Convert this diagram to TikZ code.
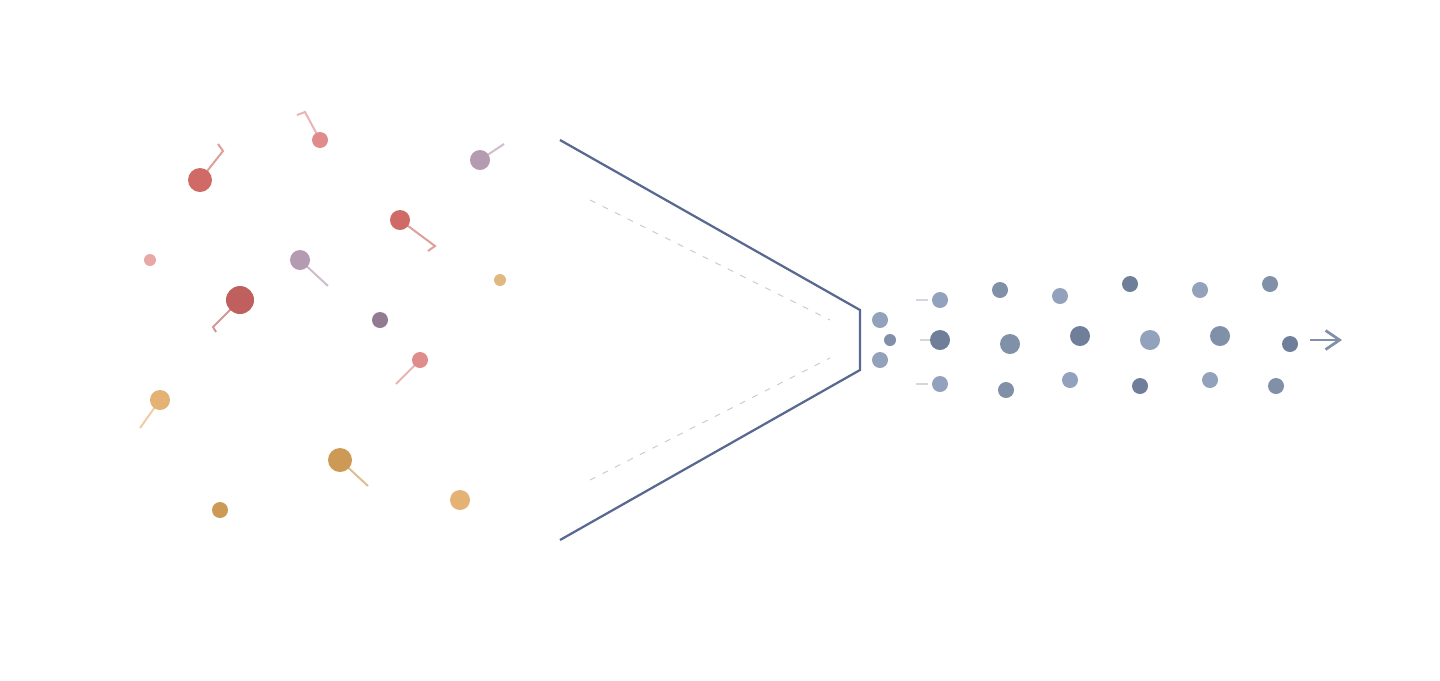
\documentclass[tikz,border=0pt]{standalone}
\usepackage{xcolor}
\usepackage{tikz}
\usetikzlibrary{arrows.meta}
\definecolor{funnelblue}{RGB}{88,104,144}
\definecolor{redmid}{RGB}{208,106,102}
\definecolor{reddark}{RGB}{191,95,94}
\definecolor{pinkmid}{RGB}{224,140,140}
\definecolor{pinklight}{RGB}{232,168,165}
\definecolor{mauve}{RGB}{180,155,178}
\definecolor{plum}{RGB}{147,122,147}
\definecolor{orangelight}{RGB}{227,178,116}
\definecolor{ochre}{RGB}{205,154,85}
\definecolor{sand}{RGB}{224,184,128}
\definecolor{bluelight}{RGB}{147,162,188}
\definecolor{bluemid}{RGB}{128,144,168}
\definecolor{bluedark}{RGB}{111,127,154}
\definecolor{guide}{RGB}{200,204,214}

\begin{document}
\begin{tikzpicture}[x=0.2mm, y=-0.2mm,
    p/.style={circle, inner sep=0pt, fill=#1},
    rad/.style={minimum size=#1*0.4mm},
    tl/.style={draw=#1, line width=0.4mm, draw opacity=0.65},
    fun/.style={draw=funnelblue, line width=0.45mm},
    gd/.style={draw=guide, line width=0.2mm, dash pattern=on 1.2mm off 1.6mm},
    lead/.style={draw=guide!80, line width=0.4mm},
    arr/.style={-{Straight Barb[length=2.8mm, width=3.8mm]}, draw=bluemid, line width=0.55mm}]
    \useasboundingbox (0,0) rectangle (1440,680);

    % incoming particles
    \node[p=redmid, rad=12] (d1) at (200,180) {};
    \node[p=pinkmid, rad=8] (d2) at (320,140) {};
    \node[p=mauve, rad=10] (d3) at (480,160) {};
    \node[p=redmid, rad=10] (d4) at (400,220) {};
    \node[p=pinklight, rad=6] (d5) at (150,260) {};
    \node[p=mauve, rad=10] (d6) at (300,260) {};
    \node[p=sand, rad=6] (d7) at (500,280) {};
    \node[p=reddark, rad=14] (d8) at (240,300) {};
    \node[p=plum, rad=8] (d9) at (380,320) {};
    \node[p=pinkmid, rad=8] (d10) at (420,360) {};
    \node[p=orangelight, rad=10] (d11) at (160,400) {};
    \node[p=ochre, rad=12] (d12) at (340,460) {};
    \node[p=ochre, rad=8] (d13) at (220,510) {};
    \node[p=orangelight, rad=10] (d14) at (460,500) {};

    % tails
    \coordinate (e1) at (223,151);
    \coordinate (e2) at (305,112);
    \coordinate (e3) at (504,144);
    \coordinate (e4) at (435,246);
    \coordinate (e6) at (328,286);
    \coordinate (e8) at (213,327);
    \coordinate (e10) at (396,384);
    \coordinate (e11) at (140,428);
    \coordinate (e12) at (368,486);
    \draw[tl=redmid] (d1.center) -- (e1) -- ++(-5,-7);
    \draw[tl=pinkmid] (d2.center) -- (e2) -- ++(-8,3);
    \draw[tl=mauve] (d3.center) -- (e3);
    \draw[tl=redmid] (d4.center) -- (e4) -- ++(-7,5);
    \draw[tl=mauve] (d6.center) -- (e6);
    \draw[tl=reddark] (d8.center) -- (e8) -- ++(3,5);
    \draw[tl=pinkmid] (d10.center) -- (e10);
    \draw[tl=orangelight] (d11.center) -- (e11);
    \draw[tl=ochre] (d12.center) -- (e12);

    % funnel
    \coordinate (f1) at (560,140);
    \coordinate (f2) at (860,310);
    \coordinate (f3) at (860,370);
    \coordinate (f4) at (560,540);
    \draw[fun] (f1) -- (f2) -- (f3) -- (f4);
    \coordinate (g1) at (590,200);
    \coordinate (g2) at (830,320);
    \coordinate (g3) at (590,480);
    \coordinate (g4) at (830,358);
    \draw[gd] (g1) -- (g2);
    \draw[gd] (g3) -- (g4);

    % leaving the funnel
    \node[p=bluelight, rad=8] (x1) at (880,320) {};
    \node[p=bluemid, rad=6] (x2) at (890,340) {};
    \node[p=bluelight, rad=8] (x3) at (880,360) {};

    % ordered rows
    \foreach \n/\x/\y/\r/\c in {
        a1/940/300/8/bluelight, a2/1000/290/8/bluemid, a3/1060/296/8/bluelight,
        a4/1130/284/8/bluedark, a5/1200/290/8/bluelight, a6/1270/284/8/bluemid,
        b1/940/340/10/bluedark, b2/1010/344/10/bluemid, b3/1080/336/10/bluedark,
        b4/1150/340/10/bluelight, b5/1220/336/10/bluemid, b6/1290/344/8/bluedark,
        c1/940/384/8/bluelight, c2/1006/390/8/bluemid, c3/1070/380/8/bluelight,
        c4/1140/386/8/bluedark, c5/1210/380/8/bluelight, c6/1276/386/8/bluemid}
      \node[p=\c, rad=\r] (\n) at (\x,\y) {};

    \draw[lead] ([xshift=-0.8mm]a1.west) -- ++(-12,0);
    \draw[lead] (b1.west) -- ++(-10,0);
    \draw[lead] ([xshift=-0.8mm]c1.west) -- ++(-12,0);

    \coordinate (o1) at (1310,340);
    \coordinate (o2) at (1342,340);
    \draw[arr] (o1) -- (o2);
\end{tikzpicture}
\end{document}
